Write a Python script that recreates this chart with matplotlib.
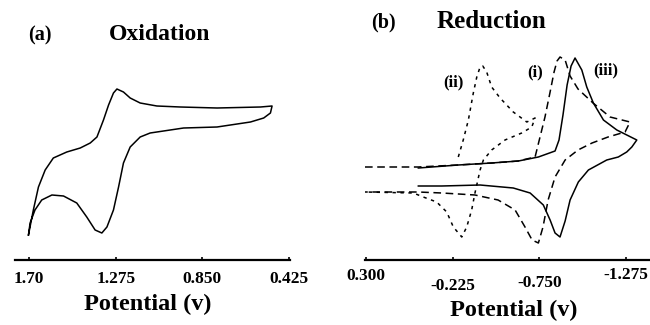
import matplotlib
matplotlib.use("Agg")
import matplotlib.pyplot as plt

plt.rcParams['font.family'] = ['Liberation Serif', 'DejaVu Serif']
plt.rcParams['font.weight'] = 'bold'

# ---- (a) oxidation, potential in V, current in arbitrary units ----
ox_fwd_v = [1.703, 1.679, 1.654, 1.621, 1.581, 1.515, 1.449, 1.400, 1.367, 1.335, 1.310,
            1.286, 1.269, 1.237, 1.204, 1.155, 1.073, 0.958, 0.778, 0.565, 0.508]
ox_fwd_i = [24, 49, 72, 89, 101, 107, 111, 116, 122, 139, 154,
            166, 170, 167, 161, 156, 153, 152, 151, 152, 153]
ox_rev_v = [0.508, 0.516, 0.549, 0.614, 0.778, 0.942, 1.106, 1.155, 1.204, 1.237, 1.261, 1.286,
            1.318, 1.343, 1.376, 1.417, 1.466, 1.531, 1.588, 1.638, 1.671, 1.695, 1.703]
ox_rev_i = [153, 146, 141, 137, 132, 131, 126, 122, 112, 96, 72, 49,
            32, 26, 29, 42, 56, 63, 64, 59, 49, 36, 24]
ox_ticks = [1.70, 1.275, 0.850, 0.425]
ox_ticklabels = ['1.70', '1.275', '0.850', '0.425']

# ---- (b) reduction ----
# (i) dashed
r1_fwd_v = [0.306, -0.015, -0.257, -0.463, -0.621, -0.724, -0.754, -0.784, -0.815, -0.839,
            -0.857, -0.875, -0.906, -0.936, -0.984, -1.075, -1.178, -1.299]
r1_fwd_i = [92, 92, 94, 96, 98, 102, 122, 142, 167, 187, 198, 202, 199, 183, 170, 156, 142, 137]
r1_rev_v = [-1.299, -1.269, -1.166, -1.069, -0.984, -0.906, -0.845, -0.803, -0.772, -0.744,
            -0.706, -0.663, -0.603, -0.500, -0.360, -0.160, -0.015, 0.306]
r1_rev_i = [137, 127, 122, 116, 109, 99, 82, 59, 32, 16, 19, 32, 49, 59, 64, 66, 67, 67]
# (ii) short dashed
r2_fwd_v = [-0.259, -0.289, -0.320, -0.350, -0.371, -0.391, -0.407, -0.431, -0.461, -0.512,
            -0.592, -0.674, -0.724]
r2_fwd_i = [102, 119, 139, 166, 182, 192, 193, 187, 172, 161, 147, 137, 141]
r2_rev_v = [-0.724, -0.704, -0.643, -0.542, -0.461, -0.411, -0.391, -0.360, -0.340, -0.310,
            -0.280, -0.229, -0.189, -0.128, -0.047, 0.013, 0.306]
r2_rev_i = [141, 132, 126, 119, 109, 99, 89, 66, 49, 32, 22, 32, 47, 57, 62, 66, 67]
# (iii) solid
r3_fwd_v = [-0.017, -0.259, -0.461, -0.623, -0.744, -0.845, -0.869, -0.893, -0.918, -0.942,
            -0.966, -1.007, -1.037, -1.077, -1.138, -1.219, -1.340]
r3_fwd_i = [91, 94, 96, 98, 102, 108, 119, 144, 174, 193, 201, 189, 172, 156, 139, 129, 119]
r3_rev_v = [-1.340, -1.310, -1.279, -1.228, -1.158, -1.047, -0.986, -0.936, -0.906, -0.875,
            -0.845, -0.815, -0.774, -0.694, -0.592, -0.391, -0.159, -0.017]
r3_rev_i = [119, 112, 107, 102, 99, 89, 77, 59, 38, 22, 26, 39, 54, 66, 71, 74, 73, 73]
red_ticks = [0.300, -0.225, -0.750, -1.275]
red_ticklabels = ['0.300', '-0.225', '-0.750', '-1.275']
red_tick_pads = [6, 13, 11, 5]

W, H = 650, 325
fig = plt.figure(figsize=(6.5, 3.25), dpi=100)

def style_axis(ax):
    for s in ['left', 'right', 'top']:
        ax.spines[s].set_visible(False)
    ax.spines['bottom'].set_linewidth(1.6)
    ax.set_yticks([])
    ax.tick_params(axis='x', direction='in', length=2.5, width=1.2, labelsize=12.5)
    ax.set_ylim(-1, 219)

# panel (a)
ax1 = fig.add_axes([15 / W, 65 / H, 275 / W, 220 / H])
ax1.plot(ox_fwd_v + ox_rev_v, ox_fwd_i + ox_rev_i, color='black', lw=1.1)
ax1.set_xlim(1.769, 0.420)
style_axis(ax1)
ax1.set_xticks(ox_ticks)
ax1.set_xticklabels(ox_ticklabels)
for t in ax1.xaxis.get_major_ticks():
    t.set_pad(8)

# panel (b)
ax2 = fig.add_axes([365 / W, 65 / H, 285 / W, 220 / H])
ax2.plot(r1_fwd_v + r1_rev_v, r1_fwd_i + r1_rev_i, color='black', lw=1.1,
         linestyle=(0, (5, 3)))
ax2.plot(r2_fwd_v + r2_rev_v, r2_fwd_i + r2_rev_i, color='black', lw=1.1,
         linestyle=(0, (2.2, 3)))
ax2.plot(r3_fwd_v + r3_rev_v, r3_fwd_i + r3_rev_i, color='black', lw=1.1)
ax2.set_xlim(0.306, -1.420)
style_axis(ax2)
ax2.set_xticks(red_ticks)
ax2.set_xticklabels(red_ticklabels)
for t, p in zip(ax2.xaxis.get_major_ticks(), red_tick_pads):
    t.set_pad(p)

ax2.text(-0.227, 177, '(ii)', fontsize=12, ha='center', va='center')
ax2.text(-0.724, 187, '(i)', fontsize=12, ha='center', va='center')
ax2.text(-1.150, 189, '(iii)', fontsize=12, ha='center', va='center')

# titles and axis labels
fig.text(40 / W, 1 - 35 / H, '(a)', fontsize=14.5, ha='center', va='center')
fig.text(160 / W, 1 - 34 / H, 'Oxidation', fontsize=17, ha='center', va='center')
fig.text(383 / W, 1 - 22 / H, '(b)', fontsize=14.5, ha='center', va='center')
fig.text(491 / W, 1 - 21 / H, 'Reduction', fontsize=18, ha='center', va='center')
fig.text(148 / W, 1 - 304 / H, 'Potential (v)', fontsize=17.5, ha='center', va='center')
fig.text(514 / W, 1 - 310 / H, 'Potential (v)', fontsize=17.5, ha='center', va='center')

fig.savefig('out.png', dpi=100, facecolor='white')
